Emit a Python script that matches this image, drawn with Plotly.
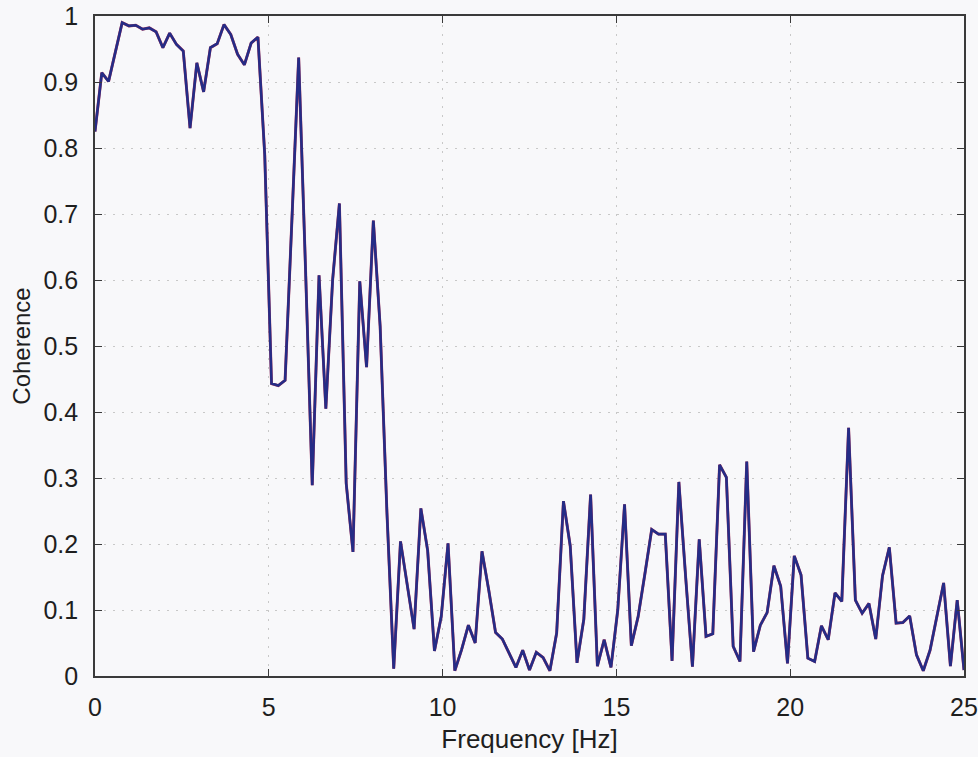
import plotly.graph_objects as go

# Frequency bins (Hz): 129 bins of width 25/128 from 0 to 25
freq_step = 25 / 128
freq = [i * freq_step for i in range(129)]

coherence = [
    0.825, 0.914, 0.901, 0.945, 0.990, 0.985, 0.986, 0.980, 0.982, 0.976,
    0.952, 0.974, 0.957, 0.947, 0.830, 0.929, 0.885, 0.952, 0.958, 0.987,
    0.972, 0.942, 0.926, 0.959, 0.968, 0.790, 0.443, 0.440, 0.448, 0.690,
    0.937, 0.620, 0.289, 0.607, 0.405, 0.600, 0.716, 0.292, 0.188, 0.598,
    0.468, 0.690, 0.530, 0.248, 0.011, 0.204, 0.140, 0.071, 0.254, 0.190,
    0.038, 0.090, 0.201, 0.008, 0.040, 0.077, 0.050, 0.189, 0.130, 0.066,
    0.056, 0.035, 0.013, 0.039, 0.009, 0.036, 0.028, 0.008, 0.065, 0.265,
    0.197, 0.020, 0.086, 0.275, 0.015, 0.055, 0.013, 0.100, 0.260, 0.046,
    0.090, 0.155, 0.222, 0.215, 0.215, 0.023, 0.294, 0.150, 0.014, 0.207,
    0.060, 0.064, 0.320, 0.301, 0.045, 0.022, 0.325, 0.037, 0.077, 0.096,
    0.167, 0.136, 0.019, 0.182, 0.153, 0.027, 0.022, 0.076, 0.055, 0.126,
    0.113, 0.376, 0.115, 0.095, 0.110, 0.056, 0.152, 0.195, 0.080, 0.081,
    0.091, 0.032, 0.008, 0.039, 0.090, 0.141, 0.015, 0.115, 0.009,
]

x_ticks = [0, 5, 10, 15, 20, 25]
y_ticks = [0, 0.1, 0.2, 0.3, 0.4, 0.5, 0.6, 0.7, 0.8, 0.9, 1]
y_tick_text = ["0", "0.1", "0.2", "0.3", "0.4", "0.5", "0.6", "0.7", "0.8", "0.9", "1"]

FONT = "Liberation Sans, Arial, sans-serif"

fig = go.Figure()
fig.add_trace(go.Scatter(
    x=freq, y=coherence, mode="lines",
    line=dict(color="#b83a55", width=2.9),
    hoverinfo="skip", showlegend=False,
))
fig.add_trace(go.Scatter(
    x=freq, y=coherence, mode="lines",
    line=dict(color="#252c86", width=2.6),
    showlegend=False,
))

axis_common = dict(
    showline=True, linecolor="#3a3a3a", linewidth=1.6, mirror="allticks",
    ticks="inside", ticklen=7, tickcolor="#3a3a3a", tickwidth=1.2,
    showgrid=True, gridcolor="#c8c8c8", griddash="2px,7px", gridwidth=1.2,
    zeroline=False, automargin=False,
    tickfont=dict(family=FONT, size=25, color="#1e1e1e"),
)

fig.update_xaxes(
    range=[0, 25], tickvals=x_ticks, ticktext=[str(v) for v in x_ticks],
    ticklabelstandoff=8,
    title=dict(text="Frequency [Hz]", standoff=10,
               font=dict(family=FONT, size=26, color="#1e1e1e")),
    **axis_common,
)
fig.update_yaxes(
    range=[0, 1], tickvals=y_ticks, ticktext=y_tick_text,
    ticklabelstandoff=10,
    title=dict(text="Coherence", standoff=6,
               font=dict(family=FONT, size=24, color="#1e1e1e")),
    **axis_common,
)

fig.update_layout(
    width=978, height=757,
    margin=dict(l=95, r=14, t=16, b=81),
    paper_bgcolor="#f8f8fa", plot_bgcolor="#f8f8fa",
    showlegend=False,
)

fig.write_html("out.html")
